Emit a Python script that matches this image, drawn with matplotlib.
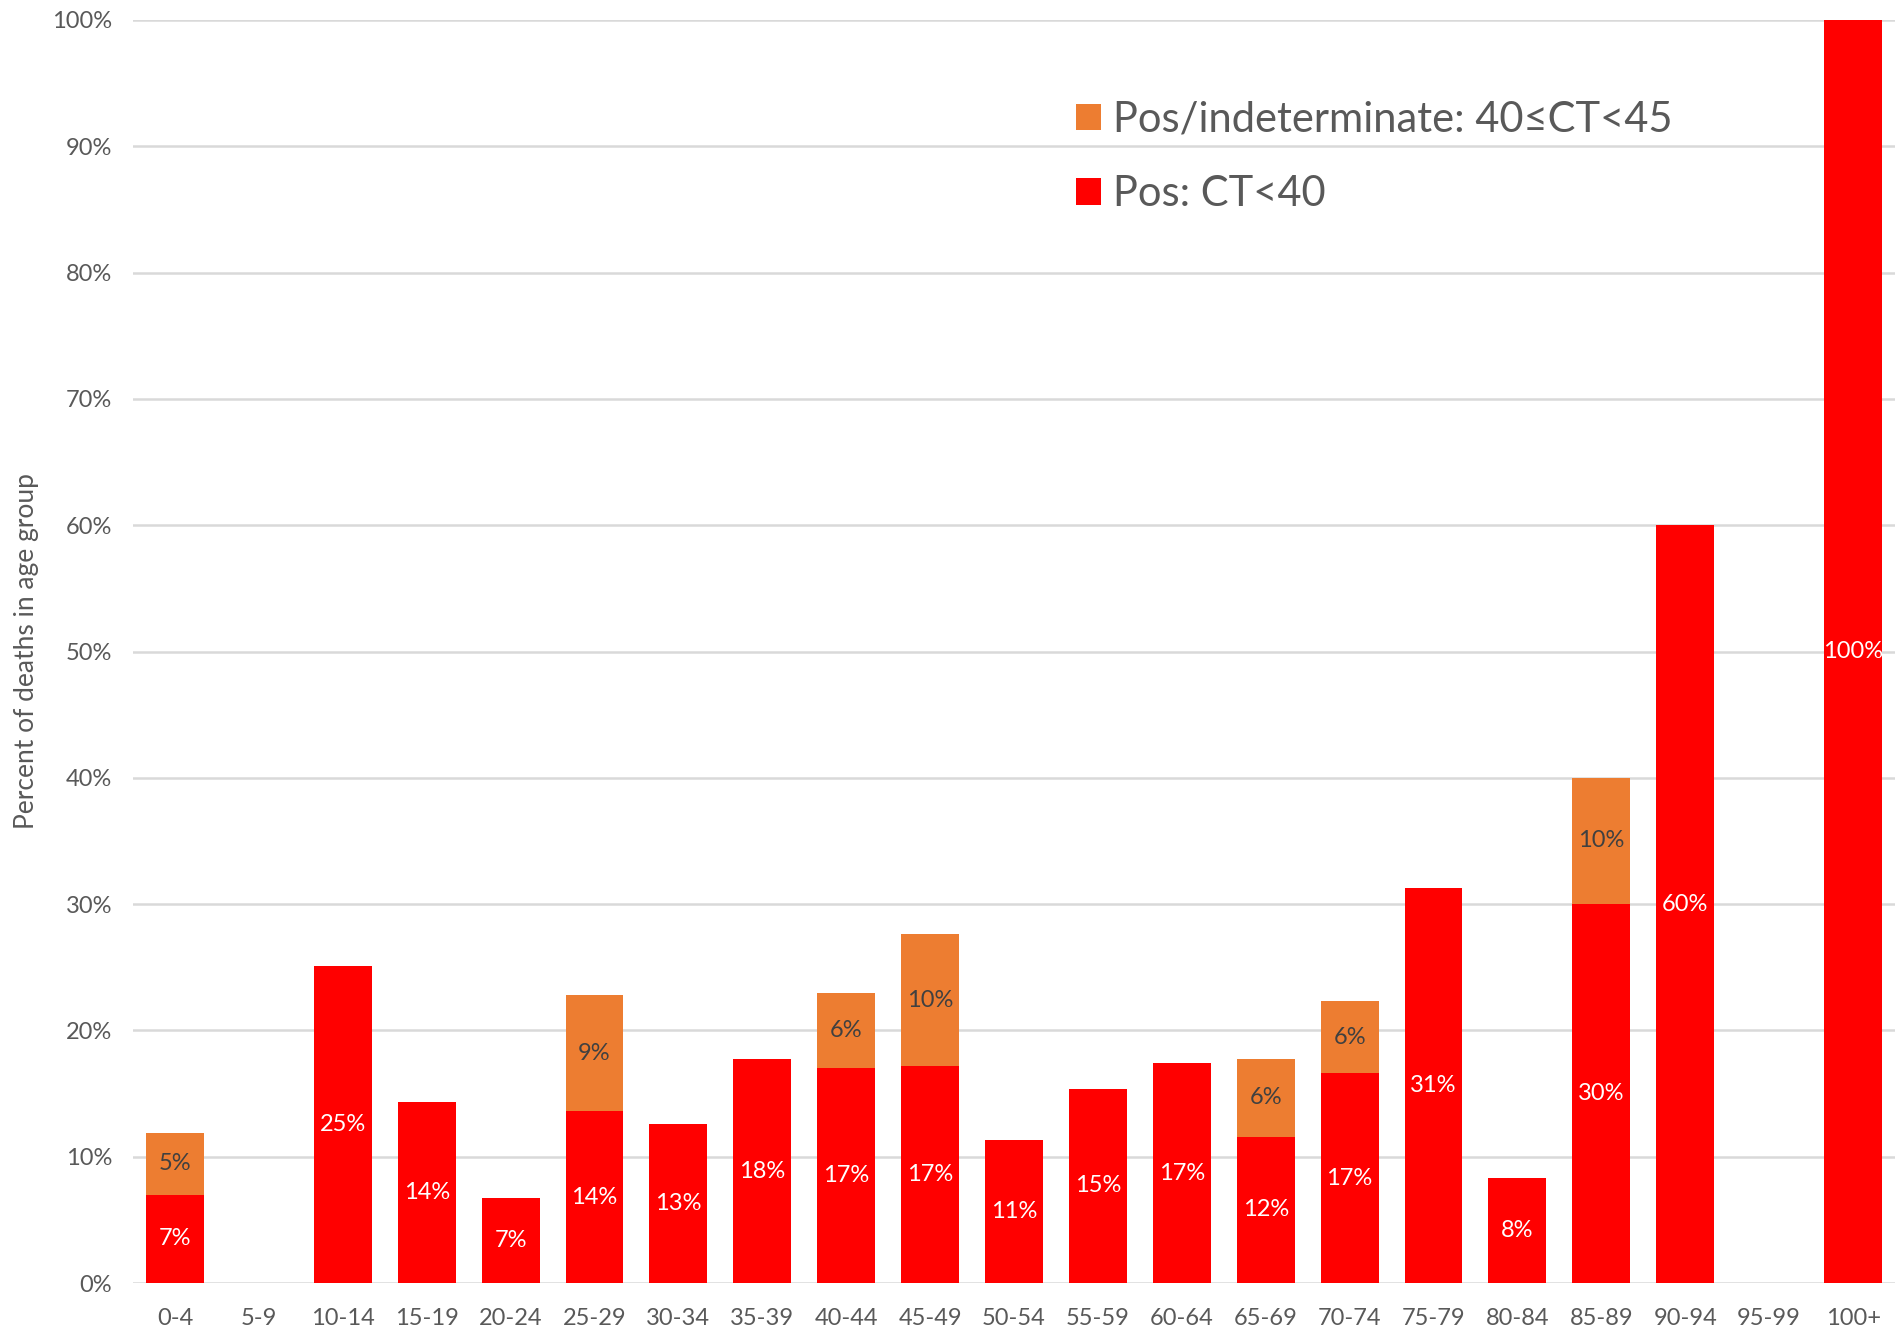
import matplotlib.pyplot as plt
import numpy as np

# ============================================================
# DATA
# ============================================================
age_groups = ["0-4", "5-9", "10-14", "15-19", "20-24", "25-29", "30-34",
              "35-39", "40-44", "45-49", "50-54", "55-59", "60-64", "65-69",
              "70-74", "75-79", "80-84", "85-89", "90-94", "95-99", "100+"]

# Pos: CT<40 (percent of deaths in age group)
pos_ct40 = [7.0, 0, 25.1, 14.3, 6.7, 13.6, 12.6, 17.7, 17.0, 17.2, 11.3,
            15.4, 17.4, 11.6, 16.6, 31.3, 8.3, 30.0, 60.0, 0, 100.0]

# Pos/indeterminate: 40<=CT<45
pos_indet = [4.9, 0, 0, 0, 0, 9.2, 0, 0, 6.0, 10.4, 0,
             0, 0, 6.1, 5.7, 0, 0, 10.0, 0, 0, 0]

yticks = [0, 10, 20, 30, 40, 50, 60, 70, 80, 90, 100]

RED = "#FF0000"
ORANGE = "#ED7D31"
GRAY = "#595959"

plt.rcParams["font.family"] = ["Lato", "DejaVu Sans"]

# ============================================================
# PLOT
# ============================================================
fig = plt.figure(figsize=(18.95, 13.33), dpi=100)
ax = fig.add_axes([0.0702, 0.0375, 0.9298, 0.9475])

x = np.arange(len(age_groups))
width = 0.69

bars_red = ax.bar(x, pos_ct40, width, color=RED, zorder=3, label="Pos: CT<40")
bars_org = ax.bar(x, pos_indet, width, bottom=pos_ct40, color=ORANGE, zorder=3,
                  label="Pos/indeterminate: 40\u2264CT<45")

# data labels centred in each segment
for i in range(len(x)):
    r = pos_ct40[i]
    o = pos_indet[i]
    if r > 0:
        ax.text(x[i], r / 2, f"{r:.0f}%", ha="center", va="center",
                color="white", fontsize=17, zorder=4)
    if o > 0:
        ax.text(x[i], r + o / 2, f"{o:.0f}%", ha="center", va="center",
                color="#404040", fontsize=17, zorder=4)

ax.set_xlim(-0.5, len(x) - 0.5)
ax.set_ylim(0, 100)
ax.set_yticks(yticks)
ax.set_yticklabels([f"{t}%" for t in yticks])
ax.set_xticks(x)
ax.set_xticklabels(age_groups)
ax.tick_params(axis="y", length=0, pad=15, labelsize=17, labelcolor=GRAY)
ax.tick_params(axis="x", length=0, pad=18, labelsize=17, labelcolor=GRAY)

ax.grid(axis="y", color="#D9D9D9", linewidth=1.8, zorder=0)
ax.set_axisbelow(True)
for s in ax.spines.values():
    s.set_visible(False)

ax.set_ylabel("Percent of deaths in age group", fontsize=19, color=GRAY)
ax.yaxis.set_label_coords(-0.0533, 0.5)

leg = ax.legend(handles=[bars_org, bars_red], loc="upper left",
                bbox_to_anchor=(0.535, 0.936), frameon=False, fontsize=30,
                labelcolor=GRAY, handlelength=0.6, handleheight=0.6,
                handletextpad=0.3, labelspacing=0.87, borderpad=0,
                borderaxespad=0)

plt.savefig("out.png", dpi=100)
